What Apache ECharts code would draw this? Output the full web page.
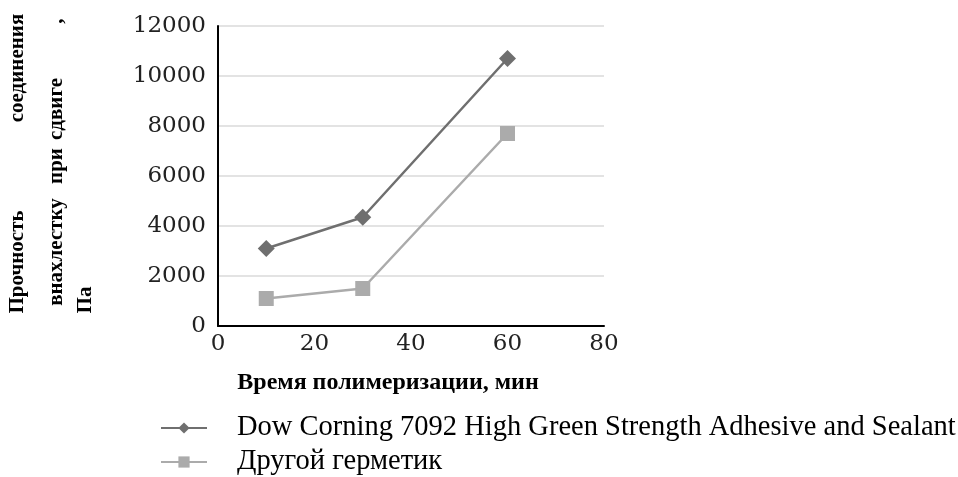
<!DOCTYPE html>
<html>
<head>
<meta charset="utf-8">
<script src="https://cdn.jsdelivr.net/npm/echarts@6/dist/echarts.min.js"></script>
<style>html,body{margin:0;padding:0;background:#fff;}#c{width:958px;height:477px;}</style>
</head>
<body>
<div id="c"></div>
<script>
var xTime = [10, 30, 60];
var dowCorning = [3100, 4350, 10700];
var otherSealant = [1100, 1500, 7700];
var seriesNames = ['Dow Corning 7092 High Green Strength Adhesive and Sealant', 'Другой герметик'];
var xTitle = 'Время полимеризации, мин';

function pairs(xs, ys) { return xs.map(function (x, i) { return [x, ys[i]]; }); }

var chart = echarts.init(document.getElementById('c'));
var yFont = { fontFamily: 'Liberation Serif', fontWeight: 'bold', fontSize: 21, fill: '#000' };
function vtext(word, x, y) {
  return { type: 'text', x: x, y: y, rotation: Math.PI / 2,
    style: Object.assign({ text: word, align: 'center', verticalAlign: 'middle' }, yFont) };
}
chart.setOption({
  animation: false,
  backgroundColor: '#fff',
  grid: { left: 218, right: 354, top: 26, bottom: 151, containLabel: false },
  xAxis: {
    type: 'value', min: 0, max: 80, interval: 20,
    axisLine: { lineStyle: { color: '#000', width: 2 } },
    axisTick: { show: false },
    splitLine: { show: false },
    axisLabel: { fontFamily: 'DejaVu Serif', fontSize: 23, color: '#222', margin: 7,
      formatter: function (v) { return String(v); } }
  },
  yAxis: {
    type: 'value', min: 0, max: 12000, interval: 2000,
    axisLine: { show: true, lineStyle: { color: '#000', width: 2 } },
    axisTick: { show: false },
    splitLine: { lineStyle: { color: '#e3e3e3', width: 2 } },
    axisLabel: { fontFamily: 'DejaVu Serif', fontSize: 23, color: '#222', margin: 12,
      formatter: function (v) { return String(v); } }
  },
  legend: {
    orient: 'vertical', left: 160, top: 413, padding: 0, itemWidth: 46, itemHeight: 14, itemGap: 4,
    textStyle: { fontFamily: 'Liberation Serif', fontSize: 28.5, color: '#000', lineHeight: 30, padding: [0, 0, 0, 25] },
    data: seriesNames
  },
  graphic: [
    vtext('Прочность', 18, 262),
    vtext('соединения', 18, 68),
    vtext('внахлестку', 57, 252),
    vtext('при', 57, 166),
    vtext('сдвиге', 57, 109),
    vtext(',', 57, 21),
    vtext('Па', 86, 300),
    { type: 'text', x: 388, y: 383,
      style: { text: xTitle, align: 'center', verticalAlign: 'middle', fontFamily: 'Liberation Serif', fontWeight: 'bold', fontSize: 24, fill: '#000' } }
  ],
  series: [
    { name: seriesNames[0], type: 'line', data: pairs(xTime, dowCorning),
      symbol: 'diamond', symbolSize: 17,
      itemStyle: { color: '#6f6f6f' }, lineStyle: { color: '#6f6f6f', width: 2.5 } },
    { name: seriesNames[1], type: 'line', data: pairs(xTime, otherSealant),
      symbol: 'rect', symbolSize: 15,
      itemStyle: { color: '#ababab' }, lineStyle: { color: '#ababab', width: 2.5 } }
  ]
});
</script>
</body>
</html>
